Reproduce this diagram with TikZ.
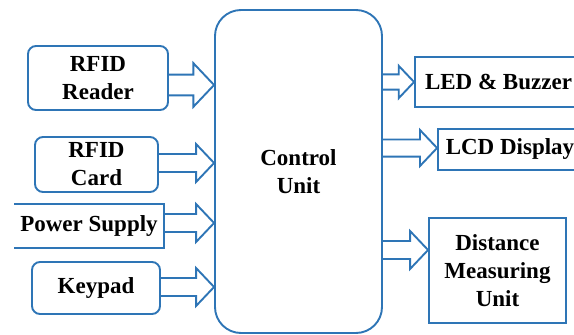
\documentclass[tikz,border=0pt]{standalone}
\usepackage{fontspec}
\setmainfont{Liberation Serif}
\usepackage{tikz}
\usetikzlibrary{calc, positioning}
\definecolor{boxblue}{HTML}{2E75B6}

% hollow block arrow: #2 start point, #3 target node (west side), #1 size
\newcommand{\barrow}[3][1]{%
  \draw[arrline] let \p1=#2, \p2=(#3.west) in
    (\x1,\y1-9*#1) -- (\x2-18*#1,\y1-9*#1) -- (\x2-18*#1,\y1-19*#1)
    -- (\x2,\y1) -- (\x2-18*#1,\y1+19*#1) -- (\x2-18*#1,\y1+9*#1)
    -- (\x1,\y1+9*#1);}

\begin{document}
\begin{tikzpicture}[
        x=1pt, y=-1pt,
        box/.style={draw=boxblue, line width=1.9pt, rounded corners=8pt,
                    align=center, inner sep=0pt,
                    font=\bfseries\fontsize{23}{28}\selectfont},
        sqbox/.style={box, sharp corners},
        ctrl/.style={box, rounded corners=26pt},
        arrline/.style={draw=boxblue, line width=1.9pt, line join=miter},
    ]
        \useasboundingbox (0,0) rectangle (574,335);

        % control unit
        \node[ctrl, minimum width=167pt, minimum height=323pt] (cu) at (298.5,171.5)
            {Control\\Unit};

        % inputs
        \node[box, minimum width=140pt, minimum height=64pt] (rdr) at (98,78)
            {RFID\\Reader};
        \node[box, minimum width=123pt, minimum height=55pt] (card) at (96.5,164.5)
            {RFID\\Card};
        \node[sqbox, draw=none, minimum width=148pt, minimum height=42pt] (pwr) at (89,226)
            {Power Supply};
        \draw[arrline] (pwr.north west) -- (pwr.north east) -- (pwr.south east) -- (pwr.south west);
        \node[box, minimum width=128pt, minimum height=52pt] (key) at (96,288)
            {Keypad};

        % outputs
        \node[sqbox, minimum width=167pt, minimum height=50pt] (led) at (498.5,82)
            {LED \& Buzzer};
        \node[sqbox, minimum width=144pt, minimum height=41pt] (lcd) at (510,149.5)
            {LCD Display};
        \node[sqbox, minimum width=137pt, minimum height=105pt] (dist) at (497.5,270.5)
            {Distance\\Measuring\\Unit};

        \barrow[1.15]{(rdr.east |- 0,85)}{cu}
        \barrow{(card.east |- 0,163)}{cu}
        \barrow{(pwr.east |- 0,223)}{cu}
        \barrow{(key.east |- 0,287)}{cu}

        \barrow[0.85]{(cu.east |- 0,82)}{led}
        \barrow[0.95]{(cu.east |- 0,148)}{lcd}
        \barrow{(cu.east |- 0,250)}{dist}
    \end{tikzpicture}
\end{document}
